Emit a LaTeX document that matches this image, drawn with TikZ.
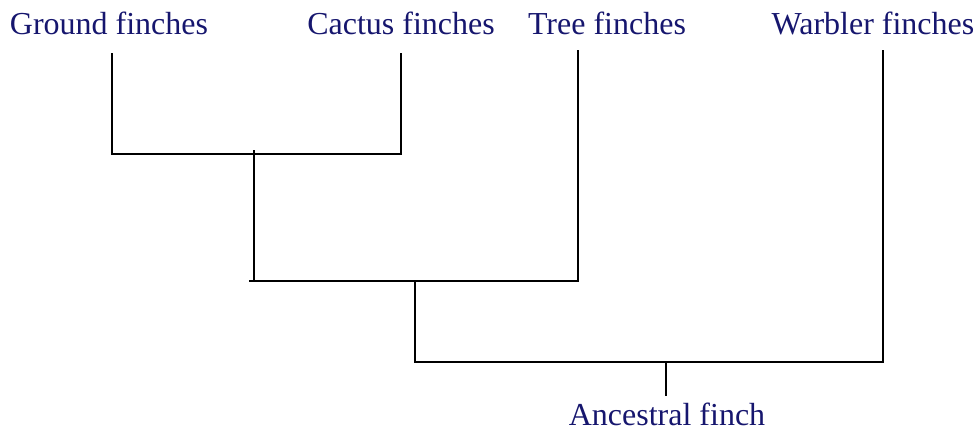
\documentclass[tikz,border=0pt]{standalone}
\usepackage{fontspec}
\setmainfont{Liberation Serif}
\usepackage{xcolor}
\usepackage{tikz}
\usetikzlibrary{positioning, calc}
\definecolor{finchnavy}{RGB}{22, 22, 110}

\begin{document}
\begin{tikzpicture}[
    x=1pt, y=-1pt,
    taxon/.style={font=\fontsize{32}{38}\selectfont, text=finchnavy, inner sep=0pt, anchor=base},
    branch/.style={line width=2.4pt, black}
]
\useasboundingbox (0,0) rectangle (977,434);

\node[taxon] (G) at (109,34) {Ground finches};
\node[taxon] (C) at (401,34) {Cactus finches};
\node[taxon] (T) at (607,34) {Tree finches};
\node[taxon] (W) at (873,34) {Warbler finches};
\node[taxon] (A) at (667,425) {Ancestral finch};

\coordinate (Gt) at (112,53);
\coordinate (Ct) at (401,53);
\coordinate (Tt) at (578,50);
\coordinate (Wt) at (883,50);
\coordinate (GC) at (254,154);
\coordinate (GCT) at (254,281);
\coordinate (GCTW) at (415,281);
\coordinate (Root) at (666,362);
\coordinate (At) at (666,396);

\draw[branch] (Gt) |- (GC) -| (Ct);
\draw[branch] ([yshift=4pt]GC) -- (GCT);
\draw[branch] ([xshift=-5pt]GCT) -| (Tt);
\draw[branch] (GCTW) |- (Root) -| (Wt);
\draw[branch] (Root) -- (At);
\end{tikzpicture}
\end{document}
